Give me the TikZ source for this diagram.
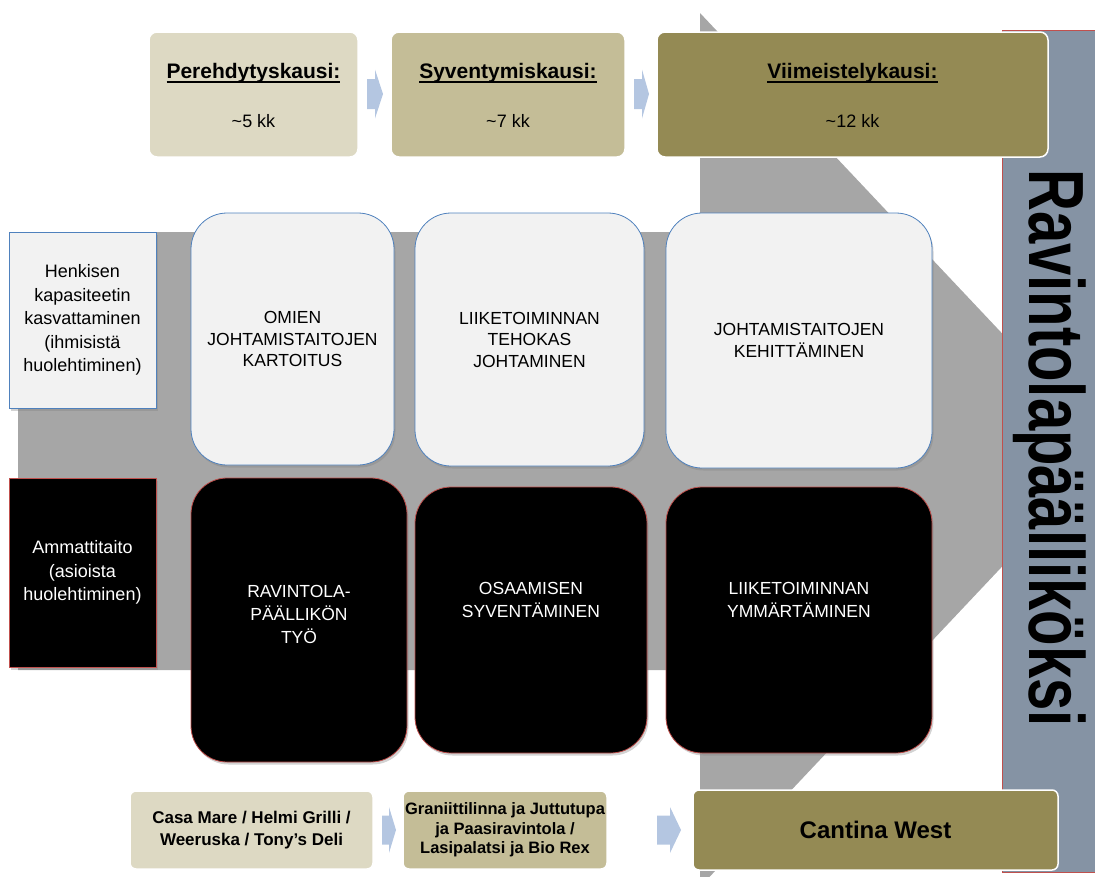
\documentclass[tikz,border=0pt]{standalone}
\usepackage{fontspec}
\setmainfont{Liberation Sans}
\setsansfont{Liberation Sans}
\usepackage{graphicx}
\usetikzlibrary{shadows}

\definecolor{tanlight}{HTML}{DDD9C3}
\definecolor{tanmid}{HTML}{C4BD97}
\definecolor{olive}{HTML}{948A54}
\definecolor{arrowgrey}{HTML}{A6A6A6}
\definecolor{chevblue}{HTML}{B4C6E1}
\definecolor{boxwhite}{HTML}{F2F2F2}
\definecolor{edgeblue}{HTML}{4F81BD}
\definecolor{edgered}{HTML}{C0504D}
\definecolor{barblue}{HTML}{8593A4}
\definecolor{bargrey}{HTML}{A9AAAC}

% thick underline for the phase titles
\newcommand{\thickul}[1]{\setbox0\hbox{#1}\rlap{\vrule height -2.6pt depth 4.6pt width \wd0}\box0}

\begin{document}
\begin{tikzpicture}[
   x=1pt,y=-1pt,
   font=\sffamily,
   phase/.style={rounded corners=8pt,draw=white,line width=1.5pt,inner sep=0pt,minimum height=125pt},
   phasetitle/.style={anchor=base,inner sep=0pt,font=\sffamily\bfseries\fontsize{21}{25}\selectfont},
   phaselen/.style={anchor=base,inner sep=0pt,font=\sffamily\fontsize{18}{22}\selectfont},
   shade box/.style={drop shadow={shadow xshift=1.5pt,shadow yshift=-2.5pt,opacity=.35}},
   rowlabel/.style={shade box,line width=0.8pt,minimum width=147pt,inner sep=2pt,align=center,font=\sffamily\fontsize{18}{23.5}\selectfont},
   task/.style={shade box,rounded corners=36pt,line width=0.8pt,align=center,inner sep=0pt},
   lighttask/.style={task,draw=edgeblue,fill=boxwhite,font=\sffamily\fontsize{17.5}{21.5}\selectfont},
   darktask/.style={task,draw=edgered,fill=black},
   darktext/.style={text=white,align=center,inner sep=0pt,font=\sffamily\fontsize{17.5}{23}\selectfont},
   place/.style={rounded corners=6pt,draw=white,line width=1.5pt,align=center,inner sep=0pt,font=\sffamily\bfseries\fontsize{17}{21.5}\selectfont},
   chev/.style={fill=chevblue}]
\useasboundingbox (0,0) rectangle (1095,876);
\clip (0,0) rectangle (1095,876);

% big grey arrow in the background
\fill[arrowgrey] (18,232) -- (700,232) -- (700,13) -- (1112,450) -- (700,887) -- (700,670) -- (18,670) -- cycle;

% goal bar on the right
\shade[left color=barblue,middle color=bargrey,right color=barblue] (1002,30) rectangle (1100,872);
\draw[edgered,line width=0.8pt] (1100,30) -- (1002,30) -- (1002,872) -- (1100,872);
\node[rotate=-90,anchor=base west,inner sep=0pt,font=\sffamily\bfseries\fontsize{58}{60}\selectfont] (goal) at (1029,169) {\scalebox{1}[1.35]{Ravintolapäälliköksi}};

% phases
\node[phase,fill=tanlight,minimum width=209pt] (p1) at (253.5,94.5) {};
\node[phase,fill=tanmid,minimum width=234pt] (p2) at (508,94.5) {};
\node[phase,fill=olive,minimum width=391pt] (p3) at (852.5,94.5) {};
\node[phasetitle] (p1t) at (253.5,78) {\thickul{Perehdytyskausi:}};
\node[phasetitle] (p2t) at (508,78) {\thickul{Syventymiskausi:}};
\node[phasetitle] (p3t) at (852.5,78) {\thickul{Viimeistelykausi:}};
\node[phaselen] (p1l) at (253.5,127) {\textasciitilde5 kk};
\node[phaselen] (p2l) at (508,127) {\textasciitilde7 kk};
\node[phaselen] (p3l) at (852.5,127) {\textasciitilde12 kk};

% small arrows between the boxes
\foreach \xa/\xb/\xc/\yc/\hb/\hh in {367/375/383/94/15/24.5, 634/642/649/94/15/24.5, 382/389/396/830/14.5/23, 657/670/681/830/14.5/23}
   \fill[chev] (\xa,\yc-\hb) -- (\xb,\yc-\hb) -- (\xb,\yc-\hh) -- (\xc,\yc) -- (\xb,\yc+\hh) -- (\xb,\yc+\hb) -- (\xa,\yc+\hb) -- cycle;

% row labels
\node[rowlabel,draw=edgeblue,fill=boxwhite,minimum height=176pt] (l1) at (82.5,320) {Henkisen\\kapasiteetin\\kasvattaminen\\(ihmisistä\\huolehtiminen)};
\node[rowlabel,draw=edgered,fill=black,text=white,minimum height=189pt] (l2) at (82.5,572.5) {Ammattitaito\\(asioista\\huolehtiminen)};

% tasks
\node[lighttask,minimum width=203pt,minimum height=252pt] (w1) at (292.5,339) {OMIEN\\JOHTAMISTAITOJEN\\KARTOITUS};
\node[lighttask,minimum width=229pt,minimum height=253pt] (w2) at (529.5,339.5) {LIIKETOIMINNAN\\TEHOKAS\\JOHTAMINEN};
\node[lighttask,minimum width=266pt,minimum height=255pt] (w3) at (799,340.5) {JOHTAMISTAITOJEN\\KEHITTÄMINEN};
\node[darktask,minimum width=216pt,minimum height=284pt] (k1) at (299,620) {};
\node[darktask,minimum width=232pt,minimum height=266pt] (k2) at (531,620) {};
\node[darktask,minimum width=266pt,minimum height=266pt] (k3) at (799,620) {};
\node[darktext] (k1t) at (299,614) {RAVINTOLA-\\PÄÄLLIKÖN\\TYÖ};
\node[darktext] (k2t) at (531,600) {OSAAMISEN\\SYVENTÄMINEN};
\node[darktext] (k3t) at (799,600) {LIIKETOIMINNAN\\YMMÄRTÄMINEN};

% restaurants
\node[place,fill=tanlight,minimum width=243pt,minimum height=78pt] (c1) at (251.5,830) {Casa Mare / Helmi Grilli /\\Weeruska / Tony’s Deli};
\node[place,fill=tanmid,minimum width=204pt,minimum height=78pt,font=\sffamily\bfseries\fontsize{16.5}{19.5}\selectfont] (c2) at (505,830) {Graniittilinna ja Juttutupa\\ja Paasiravintola /\\Lasipalatsi ja Bio Rex};
\node[place,fill=olive,minimum width=365pt,minimum height=80pt,font=\sffamily\bfseries\fontsize{24}{28}\selectfont] (c3) at (875.5,830) {Cantina West};
\end{tikzpicture}
\end{document}
